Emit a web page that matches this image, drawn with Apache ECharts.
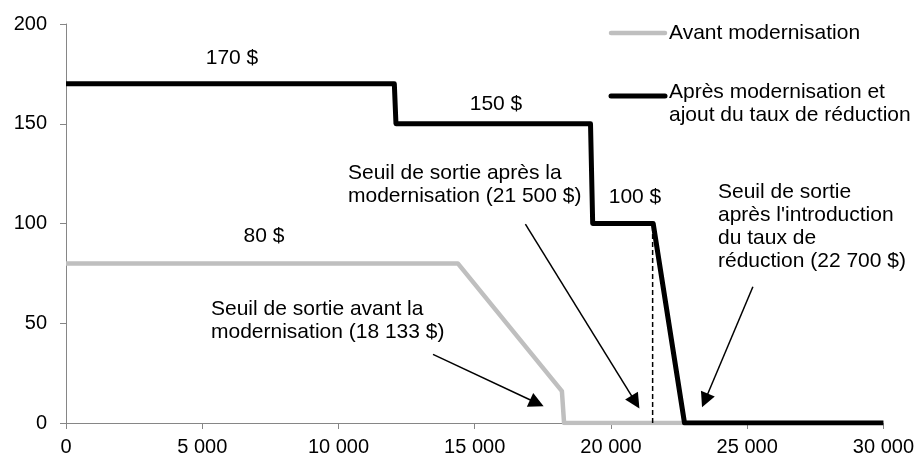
<!DOCTYPE html>
<html>
<head>
<meta charset="utf-8">
<script src="https://cdn.jsdelivr.net/npm/echarts@6/dist/echarts.min.js"></script>
<style>
  html, body { margin: 0; padding: 0; background: #fff; }
  #chart { width: 917px; height: 458px; }
</style>
</head>
<body>
<div id="chart"></div>
<script>
// tick labels
const xTicks = [0, 5000, 10000, 15000, 20000, 25000, 30000]
const yTicks = [0, 50, 100, 150, 200]

// courbe avant modernisation (gris)
const avantX = [0, 14380, 18200, 18280, 30000]
const avantY = [80, 80, 16, 0, 0]

// courbe après modernisation + taux de réduction (noir)
const apresX = [0, 12050, 12110, 19250, 19330, 21550, 22700, 30000]
const apresY = [170, 170, 150, 150, 100, 100, 0, 0]

// seuil en pointillé
const seuilX = [21530, 21530]
const seuilY = [0, 100]

// flèches : [x départ, y départ, x fin, y fin]
const arrows = [
  [13470, 34.4, 17280, 10],
  [16860, 99.7, 20900, 10.5],
  [25210, 68.3, 23450, 11.3]
]

const seriesNames = ['Avant modernisation', 'Après modernisation et\najout du taux de réduction']
const FONT = "'Liberation Sans', Arial, sans-serif"

const pairs = (xs, ys) => xs.map((x, i) => [x, ys[i]])
const fmtNum = v => String(v).replace(/\B(?=(\d{3})+(?!\d))/g, ' ')

const txt = (x, y, text, align) => ({
  type: 'text',
  x: x,
  y: y,
  style: {
    text: text,
    font: `21px ${FONT}`,
    fill: '#000',
    align: align || 'left',
    verticalAlign: 'top',
    lineHeight: 23
  },
  silent: true
})

const chart = echarts.init(document.getElementById('chart'))

chart.setOption({
  animation: false,
  grid: { left: 66, right: 30, top: 24, bottom: 35 },
  xAxis: {
    type: 'value',
    min: xTicks[0],
    max: xTicks[xTicks.length - 1],
    interval: 5000,
    splitLine: { show: false },
    axisLine: { lineStyle: { color: '#868686', width: 1 } },
    axisTick: { show: true, length: 6, lineStyle: { color: '#868686' } },
    axisLabel: {
      color: '#000',
      fontFamily: FONT,
      fontSize: 20,
      margin: 14,
      formatter: v => fmtNum(v)
    }
  },
  yAxis: {
    type: 'value',
    min: yTicks[0],
    max: yTicks[yTicks.length - 1],
    interval: 50,
    splitLine: { show: false },
    axisLine: { show: true, lineStyle: { color: '#868686', width: 1 } },
    axisTick: { show: true, length: 6, lineStyle: { color: '#868686' } },
    axisLabel: { color: '#000', fontFamily: FONT, fontSize: 20, margin: 19 }
  },
  series: [
    {
      name: seriesNames[0],
      type: 'line',
      data: pairs(avantX, avantY),
      showSymbol: false,
      lineStyle: { color: '#bfbfbf', width: 4.5, join: 'round' },
      z: 2
    },
    {
      name: 'seuil',
      type: 'line',
      data: pairs(seuilX, seuilY),
      showSymbol: false,
      lineStyle: { color: '#000', width: 1.5, type: [5, 3] },
      z: 3
    },
    {
      name: seriesNames[1],
      type: 'line',
      data: pairs(apresX, apresY),
      showSymbol: false,
      lineStyle: { color: '#000', width: 5, join: 'round' },
      z: 4
    },
    {
      name: 'fleches',
      type: 'line',
      data: [],
      markLine: {
        silent: true,
        symbol: ['none', 'triangle'],
        symbolSize: 15,
        label: { show: false },
        lineStyle: { color: '#000', width: 1.5, type: 'solid' },
        data: arrows.map(a => [{ coord: [a[0], a[1]] }, { coord: [a[2], a[3]] }])
      }
    }
  ],
  graphic: [
    // légende
    { type: 'line', shape: { x1: 611, y1: 33, x2: 665, y2: 33 }, style: { stroke: '#bfbfbf', lineWidth: 4.5, lineCap: 'round' } },
    txt(669, 21.5, seriesNames[0]),
    { type: 'line', shape: { x1: 611, y1: 96, x2: 665, y2: 96 }, style: { stroke: '#000', lineWidth: 5, lineCap: 'round' } },
    txt(669, 81, seriesNames[1]),
    // étiquettes de prix
    txt(232, 46.5, '170 $', 'center'),
    txt(496, 92.5, '150 $', 'center'),
    txt(635, 186, '100 $', 'center'),
    txt(264, 224.5, '80 $', 'center'),
    // annotations
    txt(211, 298, 'Seuil de sortie avant la\nmodernisation (18 133 $)'),
    txt(348, 162, 'Seuil de sortie après la\nmodernisation (21 500 $)'),
    txt(718, 180.5, "Seuil de sortie\naprès l'introduction\ndu taux de\nréduction (22 700 $)")
  ]
})
</script>
</body>
</html>
